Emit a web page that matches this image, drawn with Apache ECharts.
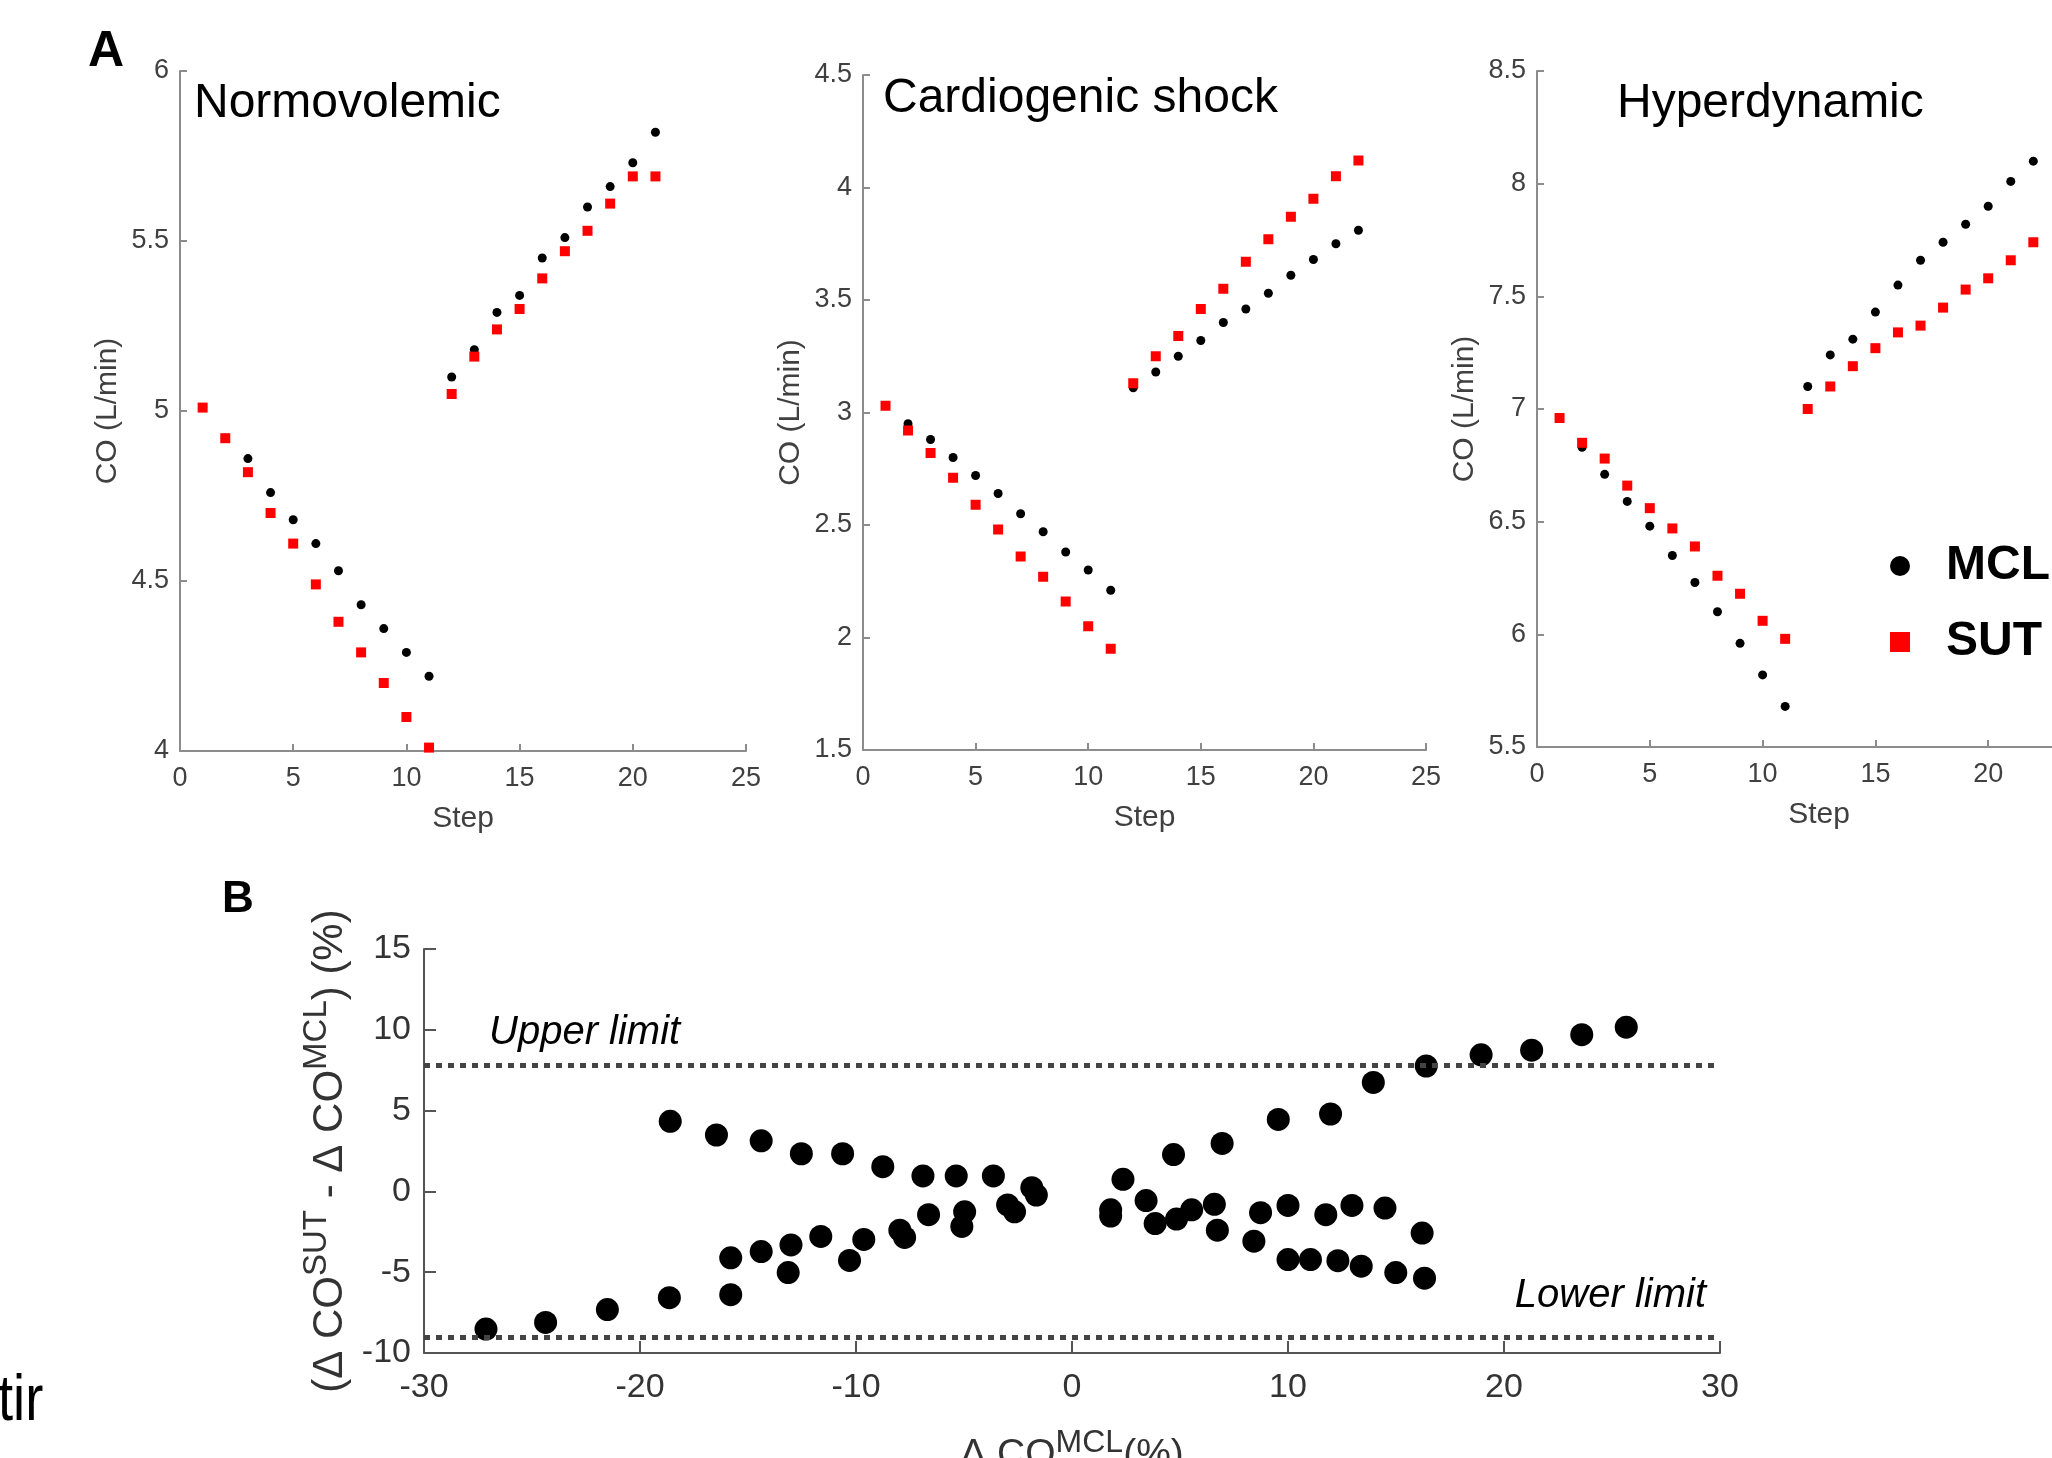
<!DOCTYPE html>
<html>
<head>
<meta charset="utf-8">
<script src="https://cdn.jsdelivr.net/npm/echarts@6/dist/echarts.min.js"></script>
<style>
html,body{margin:0;padding:0;background:#fff;}
#chart{width:2052px;height:1458px;}
</style>
</head>
<body>
<div id="chart"></div>
<script>
// ---------- Panel A data ----------
const normoSteps = [1,2,3,4,5,6,7,8,9,10,11,12,13,14,15,16,17,18,19,20,21];
const normoMCL = [5.01,4.92,4.86,4.76,4.68,4.61,4.53,4.43,4.36,4.29,4.22,5.10,5.18,5.29,5.34,5.45,5.51,5.60,5.66,5.73,5.82];
const normoSUT = [5.01,4.92,4.82,4.70,4.61,4.49,4.38,4.29,4.20,4.10,4.01,5.05,5.16,5.24,5.30,5.39,5.47,5.53,5.61,5.69,5.69];

const cardioSteps = [1,2,3,4,5,6,7,8,9,10,11,12,13,14,15,16,17,18,19,20,21,22];
const cardioMCL = [3.03,2.95,2.88,2.80,2.72,2.64,2.55,2.47,2.38,2.30,2.21,3.11,3.18,3.25,3.32,3.40,3.46,3.53,3.61,3.68,3.75,3.81];
const cardioSUT = [3.03,2.92,2.82,2.71,2.59,2.48,2.36,2.27,2.16,2.05,1.95,3.13,3.25,3.34,3.46,3.55,3.67,3.77,3.87,3.95,4.05,4.12];

const hyperSteps = [1,2,3,4,5,6,7,8,9,10,11,12,13,14,15,16,17,18,19,20,21,22];
const hyperMCL = [6.96,6.83,6.71,6.59,6.48,6.35,6.23,6.10,5.96,5.82,5.68,7.10,7.24,7.31,7.43,7.55,7.66,7.74,7.82,7.90,8.01,8.10];
const hyperSUT = [6.96,6.85,6.78,6.66,6.56,6.47,6.39,6.26,6.18,6.06,5.98,7.00,7.10,7.19,7.27,7.34,7.37,7.45,7.53,7.58,7.66,7.74];

const panelTitles = ['Normovolemic', 'Cardiogenic shock', 'Hyperdynamic'];
const yRanges = [[4, 6], [1.5, 4.5], [5.5, 8.5]];

// ---------- Panel B data ----------
const bDeltaMCL = [
  -18.60,-16.46,-14.39,-12.53,-10.62,-8.76,-6.90,-5.36,-3.64,-1.86,-1.65,
  -27.13,-24.37,-21.51,-18.64,-15.80,-15.80,-14.39,-13.14,-13.01,-11.63,-10.30,-9.64,-7.97,-7.75,-6.64,-4.97,-5.10,-2.98,-2.66,
  1.79,1.79,2.36,3.43,3.85,4.70,4.84,5.54,6.59,6.73,6.95,8.42,8.73,9.55,10.00,10.00,11.04,11.75,11.97,12.31,12.96,13.39,13.95,14.49,14.99,16.21,16.32,16.40,18.94,21.28,23.60,25.66
];
const bDiff = [
  4.34,3.49,3.13,2.33,2.33,1.53,0.96,0.96,0.96,0.23,-0.23,
  -8.52,-8.11,-7.31,-6.58,-6.39,-4.11,-3.72,-5.02,-3.31,-2.79,-4.27,-2.97,-2.40,-2.85,-1.44,-1.26,-2.17,-0.84,-1.26,
  -1.14,-1.53,0.75,-0.57,-1.99,2.28,-1.71,-1.14,-0.80,-2.40,2.97,-3.08,-1.32,4.45,-0.87,-4.22,-4.22,-1.44,4.79,-4.29,-0.87,-4.63,6.74,-1.03,-5.02,-2.58,-5.37,7.76,8.45,8.74,9.70,10.16
];
const upperLimit = 7.8;
const lowerLimit = -9.0;

// ---------- build ----------
const FF = 'Liberation Sans, Arial, Helvetica, sans-serif';
const AX = '#8c8c8c';
const TXT = '#404040';

const grids = [
  {left: 180, top: 71, width: 566, height: 680, outerBoundsMode: 'none', containLabel: false},
  {left: 863, top: 75, width: 563, height: 675, outerBoundsMode: 'none', containLabel: false},
  {left: 1537, top: 71, width: 564, height: 676, outerBoundsMode: 'none', containLabel: false},
  {left: 424, top: 949, width: 1296, height: 404, outerBoundsMode: 'none', containLabel: false}
];

const xAxes = [], yAxes = [];
for (let i = 0; i < 3; i++) {
  xAxes.push({
    gridIndex: i, type: 'value', min: 0, max: 25, interval: 5,
    axisLine: {onZero: false, lineStyle: {color: AX, width: 2}},
    axisTick: {inside: true, length: 7, lineStyle: {color: AX, width: 2}},
    axisLabel: {color: TXT, fontSize: 27, fontFamily: FF, margin: 14, showMinLabel: true, showMaxLabel: true},
    splitLine: {show: false},
    name: 'Step', nameLocation: 'middle', nameGap: 53,
    nameTextStyle: {color: TXT, fontSize: 30, fontFamily: FF}
  });
  yAxes.push({
    gridIndex: i, type: 'value', min: yRanges[i][0], max: yRanges[i][1], interval: 0.5,
    axisLine: {show: true, onZero: false, lineStyle: {color: AX, width: 2}},
    axisTick: {show: true, inside: true, length: 7, lineStyle: {color: AX, width: 2}},
    axisLabel: {color: TXT, fontSize: 27, fontFamily: FF, margin: 11, showMinLabel: true, showMaxLabel: true},
    splitLine: {show: false},
    name: 'CO (L/min)', nameLocation: 'middle', nameGap: 57,
    nameTextStyle: {color: TXT, fontSize: 30, fontFamily: FF}
  });
}
const BAX = '#555';
const BTXT = '#333';
xAxes.push({
  gridIndex: 3, type: 'value', min: -30, max: 30, interval: 10,
  axisLine: {onZero: false, lineStyle: {color: BAX, width: 2}},
  axisTick: {inside: true, length: 12, lineStyle: {color: BAX, width: 2}},
  axisLabel: {color: BTXT, fontSize: 34, fontFamily: FF, margin: 18, showMinLabel: true, showMaxLabel: true},
  splitLine: {show: false},
  name: '{n|Δ CO}{s|MCL}{n|(%)}', nameLocation: 'middle', nameGap: 74,
  nameTextStyle: {color: BTXT, fontFamily: FF, rich: {
    n: {fontSize: 39, lineHeight: 56, color: BTXT, fontFamily: FF},
    s: {fontSize: 32, lineHeight: 28, verticalAlign: 'top', color: BTXT, fontFamily: FF}
  }}
});
yAxes.push({
  gridIndex: 3, type: 'value', min: -10, max: 15, interval: 5,
  axisLine: {show: true, onZero: false, lineStyle: {color: BAX, width: 2}},
  axisTick: {show: true, inside: true, length: 12, lineStyle: {color: BAX, width: 2}},
  axisLabel: {color: BTXT, fontSize: 34, fontFamily: FF, margin: 13, showMinLabel: true, showMaxLabel: true},
  splitLine: {show: false},
  name: '{n|(Δ CO}{s|SUT}{n| - Δ CO}{s|MCL}{n|) (%)}', nameLocation: 'middle', nameGap: 59, nameRotate: 90,
  nameTextStyle: {color: BTXT, fontFamily: FF, rich: {
    n: {fontSize: 42, lineHeight: 60, color: BTXT, fontFamily: FF},
    s: {fontSize: 33, lineHeight: 33, verticalAlign: 'top', color: BTXT, fontFamily: FF}
  }}
});

const panelData = [
  [normoSteps, normoMCL, normoSUT],
  [cardioSteps, cardioMCL, cardioSUT],
  [hyperSteps, hyperMCL, hyperSUT]
];
const series = [];
panelData.forEach((p, i) => {
  series.push({
    name: 'MCL', type: 'scatter', xAxisIndex: i, yAxisIndex: i,
    symbol: 'circle', symbolSize: 9, itemStyle: {color: '#000', opacity: 1},
    data: p[1].map((v, k) => [p[0][k], v]), z: 2
  });
  series.push({
    name: 'SUT', type: 'scatter', xAxisIndex: i, yAxisIndex: i,
    symbol: 'rect', symbolSize: 10, itemStyle: {color: '#ff0000', opacity: 1},
    data: p[2].map((v, k) => [p[0][k], v]), z: 3
  });
});
series.push({
  name: 'limits', type: 'scatter', xAxisIndex: 3, yAxisIndex: 3, data: [], z: 1,
  markLine: {
    silent: true, symbol: ['none', 'none'], animation: false,
    label: {show: false},
    lineStyle: {color: '#444', width: 5, type: [6, 6], opacity: 1},
    data: [{yAxis: upperLimit}, {yAxis: lowerLimit}]
  }
});
series.push({
  name: 'diff', type: 'scatter', xAxisIndex: 3, yAxisIndex: 3, z: 3,
  symbol: 'circle', symbolSize: 23, itemStyle: {color: '#000', opacity: 1},
  data: bDeltaMCL.map((x, k) => [x, bDiff[k]])
});

const titleStyle = {fontSize: 48, fontWeight: 'normal', color: '#000', fontFamily: FF};
const option = {
  animation: false,
  backgroundColor: '#fff',
  title: [
    {text: panelTitles[0], left: 194, top: 80, padding: 0, textStyle: titleStyle},
    {text: panelTitles[1], left: 883, top: 75, padding: 0, textStyle: titleStyle},
    {text: panelTitles[2], left: 1617, top: 80, padding: 0, textStyle: titleStyle},
    {text: 'A', left: 88, top: 27, padding: 0, textStyle: {fontSize: 50, fontWeight: 'bold', color: '#000', fontFamily: FF}},
    {text: 'B', left: 222, top: 878, padding: 0, textStyle: {fontSize: 44, fontWeight: 'bold', color: '#000', fontFamily: FF}}
  ],
  legend: {
    orient: 'vertical', left: 1890, top: 542, itemWidth: 20, itemHeight: 20, itemGap: 28,
    selectedMode: false, padding: 0,
    data: [{name: 'MCL', icon: 'circle'}, {name: 'SUT', icon: 'rect'}],
    textStyle: {fontSize: 48, fontWeight: 'bold', color: '#000', fontFamily: FF, padding: [0, 0, 0, 31]}
  },
  grid: grids,
  xAxis: xAxes,
  yAxis: yAxes,
  series: series,
  graphic: [
    {type: 'text', x: 489, y: 1033, style: {text: 'Upper limit', font: 'italic 40px ' + FF, fill: '#000', textAlign: 'left', textVerticalAlign: 'middle', align: 'left', verticalAlign: 'middle'}},
    {type: 'text', x: 1706, y: 1296, style: {text: 'Lower limit', font: 'italic 40px ' + FF, fill: '#000', textAlign: 'right', textVerticalAlign: 'middle', align: 'right', verticalAlign: 'middle'}},
    {type: 'text', x: -2, y: 1402, scaleX: 0.85, style: {text: 'tir', font: '64px ' + FF, fill: '#000', textAlign: 'left', textVerticalAlign: 'middle', align: 'left', verticalAlign: 'middle'}}
  ]
};
const chart = echarts.init(document.getElementById('chart'));
chart.setOption(option);
</script>
</body>
</html>
